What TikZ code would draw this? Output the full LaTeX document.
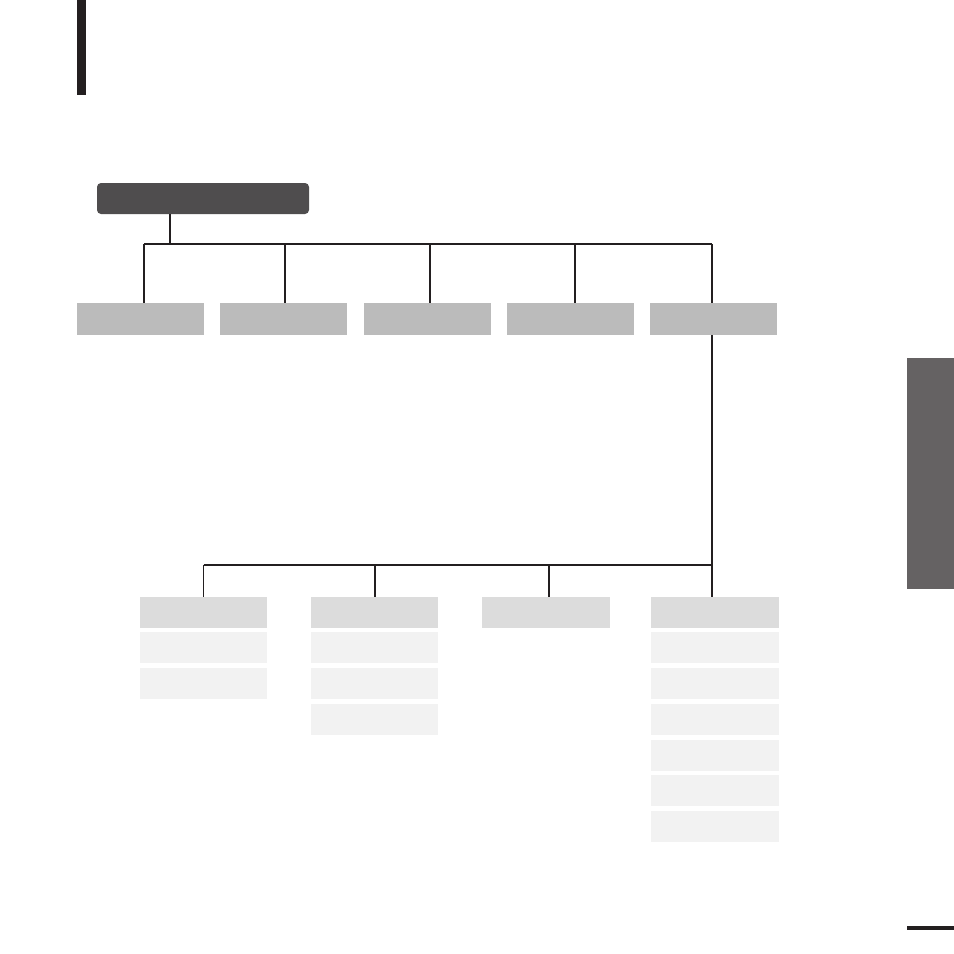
\documentclass[tikz,border=0pt]{standalone}
\begin{document}
\begin{tikzpicture}[x=1pt,y=-1pt,
  box/.style={anchor=north west,inner sep=0pt,outer sep=0pt,draw=none,minimum height=31pt,minimum width=127pt},
  topbox/.style={box,fill=topgrey,minimum width=212pt,rounded corners=4pt},
  lvlone/.style={box,fill=midgrey,minimum height=32pt},
  headbox/.style={box,fill=headgrey},
  subbox/.style={box,fill=subgrey},
  conn/.style={draw=ink,line width=1.3pt},
  thick conn/.style={draw=ink,line width=2pt}]
\definecolor{ink}{HTML}{231F20}
\definecolor{topgrey}{HTML}{4F4D4E}
\definecolor{midgrey}{HTML}{BBBBBB}
\definecolor{headgrey}{HTML}{DCDCDC}
\definecolor{subgrey}{HTML}{F2F2F2}
\definecolor{tabgrey}{HTML}{656263}
\useasboundingbox (0,0) rectangle (954,954);
\fill[white] (0,0) rectangle (954,954);
% decorative page elements
\fill[ink] (77,0) rectangle (86,95);
\fill[tabgrey] (907,358) rectangle (954,589);
\fill[ink] (907,926) rectangle (954,930);
% top node
\node[topbox] (top) at (97,183) {};
% level one
\node[lvlone] (b1) at (77,303) {};
\node[lvlone] (b2) at (220,303) {};
\node[lvlone] (b3) at (364,303) {};
\node[lvlone] (b4) at (507,303) {};
\node[lvlone] (b5) at (650,303) {};
% level two
\node[headbox] (c1) at (140,597) {};
\node[subbox] (c1a) at (140,632) {};
\node[subbox] (c1b) at (140,668) {};
\node[headbox] (c2) at (311,597) {};
\node[subbox] (c2a) at (311,632) {};
\node[subbox] (c2b) at (311,668) {};
\node[subbox] (c2c) at (311,704) {};
\node[headbox,minimum width=128pt] (c3) at (482,597) {};
\node[headbox,minimum width=128pt] (c4) at (651,597) {};
\node[subbox,minimum width=128pt] (c4a) at (651,632) {};
\node[subbox,minimum width=128pt] (c4b) at (651,668) {};
\node[subbox,minimum width=128pt] (c4c) at (651,704) {};
\node[subbox,minimum width=128pt] (c4d) at (651,740) {};
\node[subbox,minimum width=128pt] (c4e) at (651,775) {};
\node[subbox,minimum width=128pt] (c4f) at (651,811) {};
% junctions
\coordinate (bus1) at (0,244);
\coordinate (bus2) at (0,565);
% connectors top
\draw[conn] ([xshift=-33pt]top.south) -- ([xshift=-33pt]top.south |- bus1);
\draw[thick conn] ([xshift=3.5pt]b1.north |- bus1) -- ([xshift=-1.5pt]b5.north |- bus1);
\draw[conn] ([xshift=3.5pt]b1.north |- bus1) -- ([xshift=3.5pt]b1.north);
\draw[thick conn] ([xshift=1pt]b2.north |- bus1) -- ([xshift=1pt]b2.north);
\draw[conn] ([xshift=2.5pt]b3.north |- bus1) -- ([xshift=2.5pt]b3.north);
\draw[thick conn] ([xshift=4.5pt]b4.north |- bus1) -- ([xshift=4.5pt]b4.north);
\draw[conn] ([xshift=-1.5pt]b5.north |- bus1) -- ([xshift=-1.5pt]b5.north);
% connectors bottom
\draw[conn] ([xshift=-1.5pt]b5.south) -- ([xshift=-1.5pt]b5.south |- bus2);
\draw[thick conn] (c1.north |- bus2) -- ([xshift=-3pt]c4.north |- bus2);
\draw[conn] (c1.north |- bus2) -- (c1.north);
\draw[thick conn] (c2.north |- bus2) -- (c2.north);
\draw[thick conn] ([xshift=3pt]c3.north |- bus2) -- ([xshift=3pt]c3.north);
\draw[conn] ([xshift=-3pt]c4.north |- bus2) -- ([xshift=-3pt]c4.north);
\end{tikzpicture}
\end{document}
